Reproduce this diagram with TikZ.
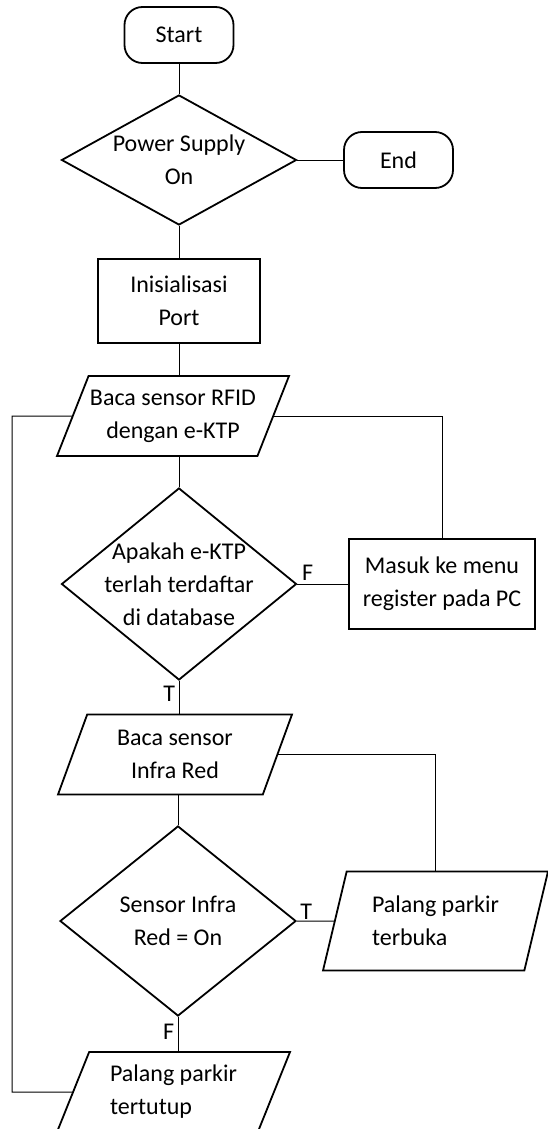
\documentclass[tikz,border=0pt]{standalone}
\usepackage{fontspec}
\setmainfont{Carlito}
\usepackage{tikz}
\usetikzlibrary{shapes.geometric}

\begin{document}
\begin{tikzpicture}[x=1pt,y=-1pt,
    every node/.style={font=\fontsize{24pt}{33pt}\selectfont},
    shape line/.style={draw, line width=1.8pt},
    term/.style={shape line, rectangle, rounded corners=18pt,
        minimum width=109pt, minimum height=56pt},
    procbox/.style={shape line, rectangle, align=center, inner sep=0pt},
    decide/.style={shape line, diamond, align=center, inner sep=-12pt,
        aspect=1.6},
    io/.style={shape line, trapezium, trapezium left angle=59,
        trapezium right angle=121, trapezium stretches body,
        align=center, inner sep=0pt, minimum height=80pt,
        minimum width=232pt},
    link/.style={line width=1pt}]

    \useasboundingbox (0,0) rectangle (548,1129);

    % -- Nodes of the main column --
    \node[term] (start) at (179,35) {Start};
    \node[decide, minimum width=235pt, minimum height=130pt] (power)
        at (179,160) {Power Supply\\On};
    \node[term] (end) at (398.5,160) {End};
    \node[procbox, minimum width=162pt, minimum height=84pt] (init)
        at (179,301) {Inisialisasi\\Port};
    \node[io] (rfid) at (173,416) {Baca sensor RFID\\dengan e-KTP};
    \node[decide, minimum width=235pt, minimum height=192pt] (cek)
        at (179,584) {Apakah e-KTP\\terlah terdaftar\\di database};
    \node[procbox, minimum width=186pt, minimum height=90pt] (daftar)
        at (442,584) {Masuk ke menu\\register pada PC};
    \node[io, minimum width=234pt] (ir) at (175,754.5)
        {Baca sensor\\Infra Red};
    \node[decide, minimum width=236pt, minimum height=190pt] (sensor)
        at (178,921) {Sensor Infra\\Red = On};
    \node[io, align=left, trapezium left angle=64.6,
          trapezium right angle=115.4, minimum height=99pt,
          minimum width=225pt] (buka) at (435.5,921)
        {Palang parkir\\terbuka};
    \node[io, align=left, minimum width=233pt] (tutup) at (173.5,1092)
        {Palang parkir\\tertutup};

    % -- Loop back on the left side --
    \coordinate (loop) at (12,1092);

    % -- Connectors --
    \draw[link] (start.south) -- (power.north);
    \draw[link] (power.east) -- (end.west);
    \draw[link] (power.south) -- (init.north);
    \draw[link] (init.south) -- (init.south |- rfid.north);
    \draw[link] (cek.north |- rfid.south) -- (cek.north);
    \draw[link] (rfid.east) -| (daftar.north);
    \draw[link] (cek.east) -- node[pos=0.2,above] {F} (daftar.west);
    \draw[link] (cek.south) -- node[pos=0.4,left] {T} (cek.south |- ir.north);
    \draw[link] (sensor.north |- ir.south) -- (sensor.north);
    \draw[link] (ir.east) -| (buka.north);
    \draw[link] (sensor.east) -- node[pos=0.25,above,inner sep=1pt] {T}
        (buka.west);
    \draw[link] (sensor.south) -- node[pos=0.45,left] {F}
        (sensor.south |- tutup.north);
    \draw[link] (tutup.west) -- (loop) |- (rfid.west);

\end{tikzpicture}
\end{document}
